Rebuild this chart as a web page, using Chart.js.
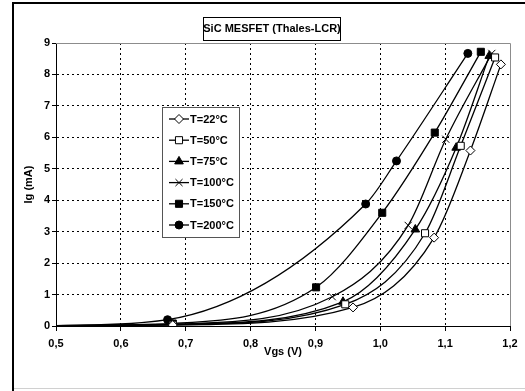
<!DOCTYPE html>
<html>
<head>
<meta charset="utf-8">
<script src="https://cdn.jsdelivr.net/npm/chart.js@4/dist/chart.umd.min.js"></script>
<style>
  html, body { margin: 0; padding: 0; background: #fff; }
  #wrap { width: 525px; height: 391px; }
</style>
</head>
<body>
<div id="wrap"><canvas id="myChart" width="525" height="391"></canvas></div>
<script>
// Données (Vgs en V, Ig en mA)
const labels = ['T=22°C', 'T=50°C', 'T=75°C', 'T=100°C', 'T=150°C', 'T=200°C'];

const vgs22 = [0.5, 0.68, 0.958, 1.083, 1.139, 1.186];
const ig22 = [0.01, 0.03, 0.59, 2.81, 5.58, 8.32];

const vgs50 = [0.5, 0.68, 0.946, 1.069, 1.124, 1.177];
const ig50 = [0.01, 0.04, 0.69, 2.95, 5.73, 8.54];

const vgs75 = [0.5, 0.68, 0.9425, 1.054, 1.117, 1.168];
const ig75 = [0.01, 0.05, 0.77, 3.07, 5.67, 8.59];

const vgs100 = [0.5, 0.68, 0.926, 1.043, 1.101, 1.172];
const ig100 = [0.01, 0.06, 0.93, 3.2, 5.94, 8.67];

const vgs150 = [0.5, 0.68, 0.901, 1.003, 1.084, 1.155];
const ig150 = [0.01, 0.08, 1.23, 3.6, 6.15, 8.72];

const vgs200 = [0.5, 0.672, 0.9775, 1.025, 1.135];
const ig200 = [0.01, 0.2, 3.88, 5.25, 8.67];

const xTicks = [0.5, 0.6, 0.7, 0.8, 0.9, 1.0, 1.1, 1.2];
const yTicks = [0, 1, 2, 3, 4, 5, 6, 7, 8, 9];

const allVgs = [vgs22, vgs50, vgs75, vgs100, vgs150, vgs200];
const allIg = [ig22, ig50, ig75, ig100, ig150, ig200];

// Style des marqueurs (comme dans Excel)
const styles = [
  { pointStyle: 'rectRot', fill: '#fff', radius: 4.5 },
  { pointStyle: 'rect', fill: '#fff', radius: 5 },
  { pointStyle: 'triangle', fill: '#000', radius: 5 },
  { pointStyle: 'crossRot', fill: '#000', radius: 5 },
  { pointStyle: 'rect', fill: '#000', radius: 5 },
  { pointStyle: 'circle', fill: '#000', radius: 4 }
];

Chart.defaults.font.family = "'Liberation Sans', Arial, sans-serif";
Chart.defaults.font.size = 11;
Chart.defaults.font.weight = 'bold';
Chart.defaults.color = '#000';

const datasets = labels.map((label, index) => ({
  label: label,
  data: allVgs[index].map((v, i) => ({ x: v, y: allIg[index][i] })),
  borderColor: '#000',
  borderWidth: 1.3,
  backgroundColor: styles[index].fill,
  pointStyle: styles[index].pointStyle,
  pointRadius: ctx => ctx.dataIndex === 0 ? 0 : styles[index].radius,
  pointBorderColor: '#000',
  pointBorderWidth: 1,
  pointBackgroundColor: styles[index].fill,
  cubicInterpolationMode: 'monotone',
  fill: false
}));

// Cadre, titre encadré et légende à l'intérieur du graphique
const decorPlugin = {
  id: 'decor',
  afterDraw(chart) {
    const ctx = chart.ctx;
    const area = chart.chartArea;
    ctx.save();

    // bord gris du haut et de droite de la zone de tracé
    ctx.strokeStyle = '#8c8c8c';
    ctx.lineWidth = 1;
    ctx.beginPath();
    ctx.moveTo(area.left, area.top + 0.5);
    ctx.lineTo(area.right + 0.5, area.top + 0.5);
    ctx.lineTo(area.right + 0.5, area.bottom);
    ctx.stroke();

    // cadre extérieur
    ctx.strokeStyle = '#000';
    ctx.lineWidth = 2;
    ctx.beginPath();
    ctx.moveTo(13, 391);
    ctx.lineTo(13, 3);
    ctx.lineTo(525, 3);
    ctx.stroke();
    ctx.strokeStyle = '#d0d0d0';
    ctx.lineWidth = 1;
    ctx.beginPath();
    ctx.moveTo(14, 388.5);
    ctx.lineTo(525, 388.5);
    ctx.stroke();

    // titre
    ctx.fillStyle = '#fff';
    ctx.fillRect(203, 17, 137, 23);
    ctx.strokeStyle = '#000';
    ctx.lineWidth = 1;
    ctx.strokeRect(203.5, 17.5, 137, 23);
    ctx.fillStyle = '#000';
    ctx.font = "bold 11px 'Liberation Sans', Arial, sans-serif";
    ctx.textAlign = 'center';
    ctx.textBaseline = 'middle';
    ctx.fillText('SiC MESFET (Thales-LCR)', 272, 29);

    // légende
    ctx.fillStyle = '#fff';
    ctx.fillRect(162, 107, 77, 130);
    ctx.strokeStyle = '#555';
    ctx.strokeRect(162.5, 107.5, 77, 130);
    ctx.textAlign = 'left';
    labels.forEach((label, index) => {
      const y = 119 + index * 21.2;
      ctx.strokeStyle = '#000';
      ctx.lineWidth = 1.3;
      ctx.beginPath();
      ctx.moveTo(169, y);
      ctx.lineTo(189, y);
      ctx.stroke();
      ctx.fillStyle = styles[index].fill;
      ctx.lineWidth = 1;
      Chart.helpers.drawPoint(ctx, {
        pointStyle: styles[index].pointStyle,
        radius: styles[index].radius,
        rotation: 0,
        borderWidth: 1
      }, 179, y);
      ctx.fillStyle = '#000';
      ctx.fillText(label, 190, y + 0.5);
    });
    ctx.restore();
  }
};

const ctx = document.getElementById('myChart').getContext('2d');
new Chart(ctx, {
  type: 'line',
  data: { datasets: datasets },
  plugins: [decorPlugin],
  options: {
    responsive: false,
    animation: false,
    devicePixelRatio: 1,
    layout: { padding: { left: 12, top: 43, right: 15, bottom: 15 } },
    plugins: {
      legend: { display: false },
      title: { display: false },
      tooltip: { enabled: false }
    },
    scales: {
      x: {
        type: 'linear',
        min: 0.5,
        max: 1.2,
        afterFit: scale => { scale.height = 50; },
        afterBuildTicks: scale => { scale.ticks = xTicks.map(v => ({ value: v })); },
        ticks: {
          padding: 6,
          callback: value => value.toFixed(1).replace('.', ',')
        },
        grid: {
          color: c => (c.tick && (c.tick.value === 0.5 || c.tick.value === 1.2)) ? 'rgba(0,0,0,0)' : '#000',
          lineWidth: 1,
          tickColor: '#000',
          tickLength: 5
        },
        border: { display: true, color: '#000', width: 1, dash: [2, 3] },
        title: { display: true, text: 'Vgs (V)', padding: 17 }
      },
      y: {
        min: 0,
        max: 9,
        afterFit: scale => { scale.width = 44; },
        afterBuildTicks: scale => { scale.ticks = yTicks.map(v => ({ value: v })); },
        ticks: { padding: 2 },
        grid: {
          color: c => (c.tick && (c.tick.value === 0 || c.tick.value === 9)) ? 'rgba(0,0,0,0)' : '#000',
          lineWidth: 1,
          tickColor: '#000',
          tickLength: 4
        },
        border: { display: true, color: '#000', width: 1, dash: [2, 3] },
        title: { display: true, text: 'Ig (mA)', padding: { top: 10, bottom: 0 } }
      }
    }
  }
});
</script>
</body>
</html>
